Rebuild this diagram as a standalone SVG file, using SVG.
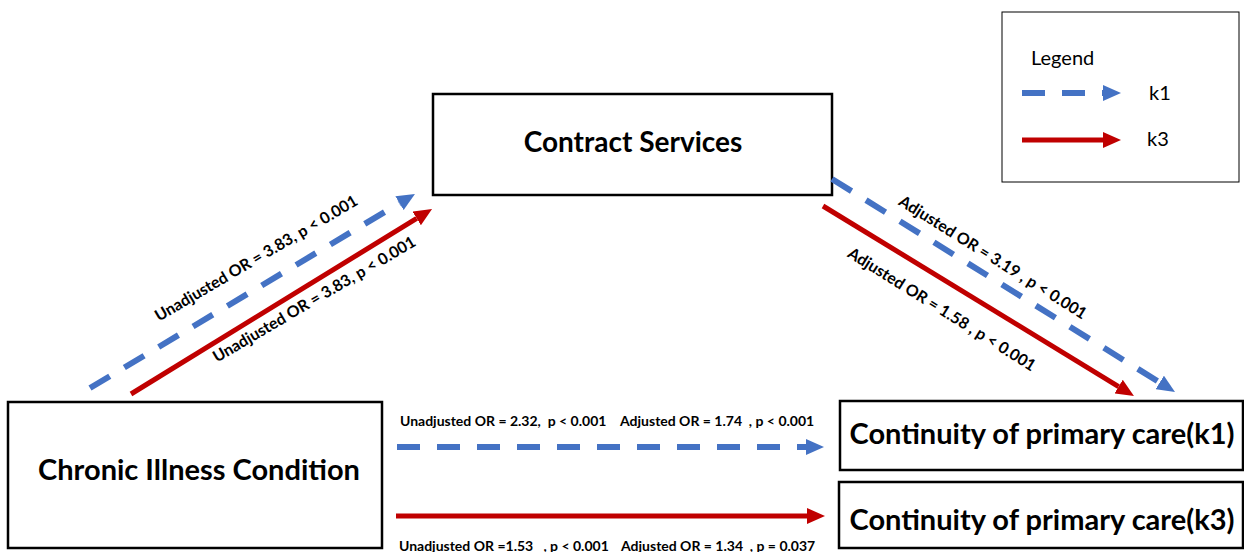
<svg xmlns="http://www.w3.org/2000/svg" width="1244" height="552" viewBox="0 0 1244 552">
<style>
.box{fill:#fff;stroke:#000;stroke-width:2.5}
.big{font-family:Lato,"Liberation Sans",sans-serif;font-weight:bold;fill:#000}
.lbl{font-family:Lato,"Liberation Sans",sans-serif;font-weight:bold;font-size:16px;fill:#000}
.hl{font-family:Lato,"Liberation Sans",sans-serif;font-weight:bold;font-size:14px;fill:#000}
.lg{font-family:Lato,"Liberation Sans",sans-serif;font-size:20px;fill:#000}
.blue{fill:none;stroke:#4472C4;stroke-width:6;stroke-dasharray:23 17}
.red{fill:none;stroke:#C00000;stroke-width:5}
</style>
<defs>
<marker id="ab" markerUnits="userSpaceOnUse" markerWidth="18" markerHeight="16" viewBox="0 0 18 16" refX="0" refY="8" orient="auto"><path d="M0,0 L18,8 L0,16 Z" fill="#4472C4"/></marker>
<marker id="ar" markerUnits="userSpaceOnUse" markerWidth="18" markerHeight="16" viewBox="0 0 18 16" refX="0" refY="8" orient="auto"><path d="M0,0 L18,8 L0,16 Z" fill="#C00000"/></marker>
</defs>

<g id="contract-services">
<rect class="box" x="433" y="94" width="399" height="101"/>
<text class="big" x="633" y="152" font-size="28" text-anchor="middle">Contract Services</text>
</g>
<g id="chronic-illness">
<rect class="box" x="8" y="402" width="374" height="146"/>
<text class="big" x="199" y="480" font-size="29" text-anchor="middle">Chronic Illness Condition</text>
</g>
<g id="continuity-k1">
<rect class="box" x="840" y="401" width="403" height="69"/>
<text class="big" x="1042" y="444" font-size="29" text-anchor="middle">Continuity of primary care(k1)</text>
</g>
<g id="continuity-k3">
<rect class="box" x="839" y="482" width="404" height="66"/>
<text class="big" x="1042" y="530" font-size="29" text-anchor="middle">Continuity of primary care(k3)</text>
</g>
<g id="legend">
<rect x="1002" y="12" width="237" height="170" fill="#fff" stroke="#000" stroke-width="1"/>
<text class="lg" x="1031" y="65">Legend</text>
<path class="blue" d="M1022,93 L1103,93" marker-end="url(#ab)"/>
<text class="lg" x="1149" y="100">k1</text>
<path class="red" d="M1022,140 L1103,140" marker-end="url(#ar)"/>
<text class="lg" x="1147" y="146">k3</text>
</g>

<g id="connectors">
<path class="blue" d="M90,388 L399.5,203.2" marker-end="url(#ab)"/>
<path class="red" d="M131,394 L416.7,218.4" marker-end="url(#ar)"/>
<path class="blue" d="M832,179 L1159.7,382.5" marker-end="url(#ab)"/>
<path class="red" d="M823,206 L1118.6,386.6" marker-end="url(#ar)"/>
<path class="blue" d="M397,447 L806,447" marker-end="url(#ab)"/>
<path class="red" d="M396,516 L807,516" marker-end="url(#ar)"/>
</g>

<g id="labels">
<text class="lbl" text-anchor="middle" transform="translate(259,263) rotate(-30.5)">Unadjusted OR = 3.83, p &lt; 0.001</text>
<text class="lbl" text-anchor="middle" transform="translate(317,304) rotate(-30.5)">Unadjusted OR = 3.83, p &lt; 0.001</text>
<text class="lbl" text-anchor="middle" transform="translate(990,262) rotate(32)">Adjusted OR = 3.19 , p &lt; 0.001</text>
<text class="lbl" text-anchor="middle" transform="translate(939,314) rotate(32)">Adjusted OR = 1.58 , p &lt; 0.001</text>
<text class="hl" x="400" y="426" xml:space="preserve">Unadjusted OR = 2.32,  p &lt; 0.001</text>
<text class="hl" x="620" y="426" xml:space="preserve">Adjusted OR = 1.74  , p &lt; 0.001</text>
<text class="hl" x="399" y="551" xml:space="preserve">Unadjusted OR =1.53   , p &lt; 0.001</text>
<text class="hl" x="621" y="551" xml:space="preserve">Adjusted OR = 1.34  , p = 0.037</text>
</g>
</svg>
